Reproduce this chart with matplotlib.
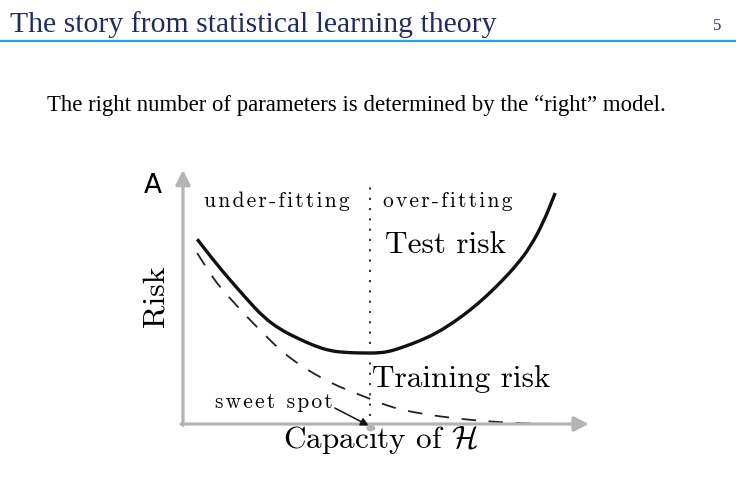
import matplotlib.pyplot as plt
from matplotlib.path import Path
from matplotlib.patches import PathPatch

plt.rcParams['mathtext.fontset'] = 'cm'

# test risk (solid) and training risk (dashed)
test_x = [0.35, 0.75, 1.16, 1.57, 1.98, 2.4, 2.81, 3.22, 3.63, 4.04, 4.44, 4.86, 5.15, 5.43, 5.85, 6.27, 6.68, 7.09, 7.5, 7.9, 8.25, 8.57, 8.9, 9.19]
test_y = [4.40, 3.90, 3.43, 2.98, 2.55, 2.25, 2.05, 1.87, 1.74, 1.70, 1.69, 1.69, 1.74, 1.83, 1.98, 2.17, 2.42, 2.71, 3.05, 3.43, 3.80, 4.21, 4.80, 5.50]
train_x = [0.35, 0.62, 0.91, 1.25, 1.58, 2.0, 2.4, 2.8, 3.21, 3.63, 4.05, 4.62, 5.0, 5.43, 6.05, 6.67, 7.3, 7.9, 8.5, 9.2]
train_y = [4.07, 3.65, 3.26, 2.90, 2.55, 2.14, 1.76, 1.46, 1.21, 0.99, 0.81, 0.60, 0.45, 0.33, 0.22, 0.14, 0.08, 0.04, 0.01, 0.0]
sweet_spot = 4.62

title = 'The story from statistical learning theory'
subtitle = 'The right number of parameters is determined by the \u201cright\u201d model.'
HAIR = '\u200a'


def spaced(s):
    # letter-spaced label like the small labels in the slide
    return HAIR.join(s)


def smooth(xs, ys, **kw):
    # quadratic bezier through the midpoints, the read points act as controls
    pts = list(zip(xs, ys))
    verts = [pts[0]]
    codes = [Path.MOVETO]
    for i in range(1, len(pts) - 1):
        mid = ((pts[i][0] + pts[i + 1][0]) / 2, (pts[i][1] + pts[i + 1][1]) / 2)
        verts += [pts[i], mid]
        codes += [Path.CURVE3, Path.CURVE3]
    verts.append(pts[-1])
    codes.append(Path.LINETO)
    return PathPatch(Path(verts, codes), fill=False, clip_on=False, **kw)


fig = plt.figure(figsize=(7.36, 4.86), dpi=100)

# slide header
fig.text(10 / 736, 1 - 32 / 486, title, fontsize=21.4, family='Liberation Serif',
         color='#1f2d5c', va='baseline', ha='left')
fig.text(717 / 736, 1 - 30 / 486, '5', fontsize=12, family='Liberation Serif',
         color='#1f2d5c', va='baseline', ha='center')
fig.add_artist(plt.Line2D([0, 1], [1 - 41 / 486, 1 - 41 / 486], color='#2aa3e2', lw=1.6))
fig.text(47 / 736, 1 - 111 / 486, subtitle, fontsize=16.4, family='Liberation Serif',
         color='black', va='baseline', ha='left')

# chart area
ax = fig.add_axes([183 / 736, 62 / 486, 405 / 736, 252 / 486])
ax.set_xlim(0, 10)
ax.set_ylim(0, 6)
ax.axis('off')

grey = '#b4b4b4'
ax.annotate('', xy=(10.02, 0), xytext=(-0.05, 0),
            arrowprops=dict(arrowstyle='-|>', color=grey, lw=2.3, mutation_scale=22,
                            shrinkA=0, shrinkB=0), annotation_clip=False)
ax.annotate('', xy=(0, 6.05), xytext=(0, -0.03),
            arrowprops=dict(arrowstyle='-|>', color=grey, lw=2.3, mutation_scale=22,
                            shrinkA=0, shrinkB=0), annotation_clip=False)

ax.add_patch(smooth(test_x, test_y, edgecolor='#111111', lw=2.4, capstyle='butt'))
ax.add_patch(smooth(train_x, train_y, edgecolor='#222222', lw=1.3,
                    linestyle=(0, (8, 7))))
ax.plot([sweet_spot, sweet_spot], [0.2, 5.7], color='#222222', lw=1.3,
        dashes=(1.2, 4.5), clip_on=False)

cm = ['cmr10', 'DejaVu Serif']
ax.text(-0.98, 5.5, 'A', fontsize=19, family='DejaVu Sans', ha='left', va='baseline')
ax.text(-0.68, 3.05, 'Risk', fontsize=23, family=cm, rotation=90, ha='center', va='center')
ax.text(0.53, 5.17, spaced('under-fitting'), fontsize=15.5, family=cm, ha='left', va='baseline')
ax.text(4.95, 5.17, spaced('over-fitting'), fontsize=15.5, family=cm, ha='left', va='baseline')
ax.text(4.99, 4.07, 'Test risk', fontsize=22.5, family=cm, ha='left', va='baseline')
ax.text(4.67, 0.88, 'Training risk', fontsize=22.5, family=cm, ha='left', va='baseline')
ax.text(0.79, 0.38, spaced('sweet spot'), fontsize=15.5, family=cm, ha='left', va='baseline')
ax.text(4.88, -0.57, r'Capacity of $\mathcal{H}$', fontsize=22.5, family=cm,
        ha='center', va='baseline')

ax.annotate('', xy=(sweet_spot - 0.03, -0.04), xytext=(3.75, 0.38),
            arrowprops=dict(arrowstyle='-|>', color='#111111', lw=1.1, mutation_scale=12,
                            shrinkA=0, shrinkB=0), annotation_clip=False)
ax.scatter([sweet_spot], [-0.06], s=22, color=grey, zorder=5, clip_on=False)

fig.savefig('out.png', dpi=100)
